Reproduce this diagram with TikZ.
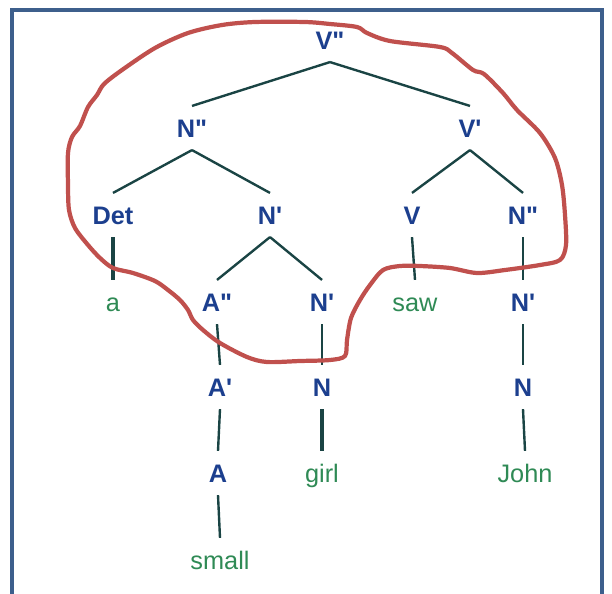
\documentclass[tikz,border=0pt]{standalone}
\usepackage{fontspec}
\setmainfont{Liberation Sans}
\usepackage{xcolor}
\usepackage{tikz}
\usetikzlibrary{positioning}

\definecolor{catblue}{HTML}{1C3F8E}
\definecolor{wordgreen}{HTML}{2F8A55}
\definecolor{branchcol}{HTML}{1A4444}
\definecolor{framecol}{HTML}{3D5F8C}
\definecolor{loopred}{HTML}{C0504D}

% straight primes for bar levels
\newcommand{\onebar}{\textquotesingle}
\newcommand{\twobar}{\textquotedbl}

\begin{document}
\begin{tikzpicture}[x=0.025cm, y=-0.025cm,
  every node/.style={font=\fontsize{18}{20}\selectfont, inner xsep=2pt, inner ysep=9pt,
    text height=13pt, text depth=0pt},
  cat/.style={text=catblue, font=\fontsize{18}{20}\selectfont\bfseries},
  wd/.style={text=wordgreen},
  branch/.style={draw=branchcol, line width=1.7pt},
  heavy/.style={draw=branchcol, line width=2.6pt}]
\useasboundingbox (0,0) rectangle (612,593);

% outer frame, open at the bottom
\draw[framecol, line width=3pt] (12,600) -- (12,10) -- (602,10) -- (602,600);

% categories
\node[cat] (vpp)   at (330,40)  {V\twobar};
\node[cat] (npp)   at (192,128) {N\twobar};
\node[cat] (vp)    at (470,128) {V\onebar};
\node[cat] (det)   at (113,215) {Det};
\node[cat] (nbar)  at (270,215) {N\onebar};
\node[cat] (v)     at (412,215) {V};
\node[cat] (npp2)  at (523,215) {N\twobar};
\node[cat] (app)   at (217,302) {A\twobar};
\node[cat] (nbar2) at (322,302) {N\onebar};
\node[cat] (nbar3) at (523,302) {N\onebar};
\node[cat] (ap)    at (220,387) {A\onebar};
\node[cat] (n)     at (322,387) {N};
\node[cat] (n2)    at (523,387) {N};
\node[cat] (adj)   at (218,473) {A};

% words
\node[wd] (a)     at (113,302) {a};
\node[wd] (saw)   at (415,302) {saw};
\node[wd] (girl)  at (322,473) {girl};
\node[wd] (john)  at (525,473) {John};
\node[wd] (small) at (220,560) {small};

% branches
\draw[branch] (vpp.south) -- (npp.north);
\draw[branch] (vpp.south) -- (vp.north);
\draw[branch] (npp.south) -- (det.north);
\draw[branch] (npp.south) -- (nbar.north);
\draw[branch] (vp.south) -- (v.north);
\draw[branch] (vp.south) -- (npp2.north);
\draw[heavy]  (det.south) -- (a.north);
\draw[branch] (nbar.south) -- (app.north);
\draw[branch] (nbar.south) -- (nbar2.north);
\draw[branch] (v.south) -- (saw.north);
\draw[branch] (npp2.south) -- (nbar3.north);
\draw[branch] (app.south) -- (ap.north);
\draw[branch] (nbar2.south) -- (n.north);
\draw[branch] (nbar3.south) -- (n2.north);
\draw[branch] (ap.south) -- (adj.north);
\draw[heavy]  (n.south) -- (girl.north);
\draw[branch] (n2.south) -- (john.north);
\draw[branch] (adj.south) -- (small.north);

% hand-drawn loop round the upper part of the tree
\draw[loopred, line width=3pt, line cap=round, line join=round]
  plot[smooth cycle, tension=0.5] coordinates {
    (104,84) (122,70) (155,48) (188,33) (222,25) (255,22) (305,22) (330,24)
    (357,27) (367,33) (390,41) (440,47) (452,53) (473,70) (484,74) (503,93)
    (517,110) (540,133) (555,158) (562,185) (565,215) (566,245) (560,260)
    (540,265) (505,270) (477,273) (450,268) (420,266) (400,266) (383,270)
    (370,285) (360,300) (351,318) (347,340) (345,356) (330,360) (300,361)
    (267,362) (247,357) (220,343) (203,330) (193,320) (188,310) (180,300)
    (168,290) (155,281) (133,273) (113,268) (100,258) (88,245) (75,228)
    (69,210) (68,185) (68,153) (72,137) (80,126) (88,107) (97,95)};
\end{tikzpicture}
\end{document}
